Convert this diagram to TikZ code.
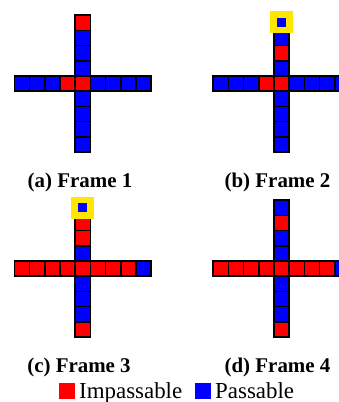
\documentclass[tikz,border=0pt]{standalone}
\usepackage{fontspec}
\setmainfont{Liberation Serif}
\usetikzlibrary{positioning}
\definecolor{imp}{RGB}{255,0,0}
\definecolor{pas}{RGB}{0,0,255}
\definecolor{agentyellow}{RGB}{255,230,0}
% #1,#2: top-left of centre cell; #3 row colours; #4 column colours
\newcommand{\crossgrid}[4]{%
  \foreach \c [count=\i from 0] in {#3}
    \fill[\c] ({#1+(\i-4)*15.2},#2) rectangle ++(15.2,15.2);
  \foreach \c [count=\i from 0] in {#4}
    \fill[\c] (#1,{#2+(\i-4)*15.2}) rectangle ++(15.2,15.2);
  \foreach \i in {0,...,8} {
    \draw[cell] ({#1+(\i-4)*15.2},#2) rectangle ++(15.2,15.2);
    \draw[cell] (#1,{#2+(\i-4)*15.2}) rectangle ++(15.2,15.2);
  }
}
% #1,#2: centre of the marked cell
\newcommand{\agentmark}[2]{%
  \fill[agentyellow] ({#1-11.5},{#2-11}) rectangle ++(23,22);
  \fill[pas] ({#1-4.5},{#2-4.5}) rectangle ++(9,9);
}

\begin{document}
\begin{tikzpicture}[x=1bp, y=-1bp,
  cell/.style={draw=black, line width=1.5bp},
  captxt/.style={font=\fontsize{21}{25}\selectfont\bfseries, anchor=base},
  legtxt/.style={font=\fontsize{23}{27}\selectfont, anchor=base west, inner sep=0pt},
  keybox/.style={minimum size=15.5bp, inner sep=0pt},
]
\clip (0,0) rectangle (339,402);
\fill[white] (0,0) rectangle (339,402);

\crossgrid{75.2}{76}{pas,pas,pas,imp,imp,pas,pas,pas,pas}{imp,pas,pas,pas,imp,pas,pas,pas,pas}
\crossgrid{274}{76}{pas,pas,pas,imp,imp,pas,pas,pas,pas}{pas,pas,imp,pas,imp,pas,pas,pas,pas}
\agentmark{281.6}{22.2}
\crossgrid{75.2}{261}{imp,imp,imp,imp,imp,imp,imp,imp,pas}{pas,imp,imp,pas,imp,pas,pas,pas,imp}
\agentmark{82.8}{207.8}
\crossgrid{274}{261}{imp,imp,imp,imp,imp,imp,imp,imp,pas}{pas,imp,pas,pas,imp,pas,pas,pas,imp}

\node[captxt] (capa) at (80,187) {(a) Frame 1};
\node[captxt] (capb) at (277.5,187) {(b) Frame 2};
\node[captxt] (capc) at (79,372.5) {(c) Frame 3};
\node[captxt] (capd) at (277.5,372.5) {(d) Frame 4};

\node[keybox, fill=imp] (keyimp) at (67,391) {};
\node[legtxt] (txtimp) at (79,398) {Impassable};
\node[keybox, fill=pas] (keypas) at (203,391) {};
\node[legtxt] (txtpas) at (215,398) {Passable};
\end{tikzpicture}
\end{document}
